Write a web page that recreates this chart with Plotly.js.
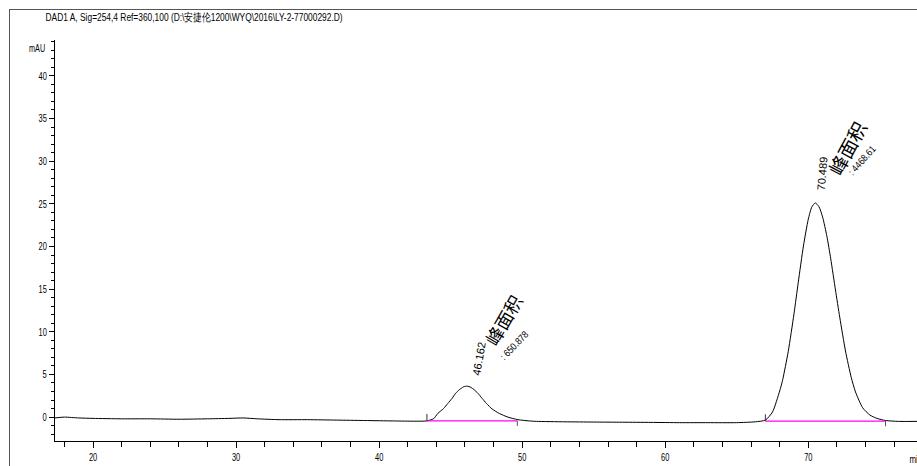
<!DOCTYPE html>
<html>
<head>
<meta charset="utf-8">
<script src="https://cdn.plot.ly/plotly-3.0.1.min.js"></script>
<style>
html,body{margin:0;padding:0;background:#fff;}
#wrap{position:relative;width:917px;height:466px;overflow:hidden;}
#chart{width:917px;height:466px;}
#frame{position:absolute;left:9px;top:9px;width:920px;height:470px;border-left:1px solid #555;border-top:1px solid #555;pointer-events:none;}
</style>
</head>
<body>
<div id="wrap"><div id="chart"></div><div id="frame"></div></div>
<script>
// Chromatogram signal (time in min, absorbance in mAU)
const timeMin = [17.3, 18, 19, 20, 22, 24, 26, 28, 29.5, 30.5, 31.5, 33, 35, 37, 39, 41, 42.5, 43.3,
  43.8, 44.1, 44.5, 44.8, 45.1, 45.35, 45.6, 45.9, 46.16, 46.4, 46.65, 46.9, 47.2, 47.5, 47.9, 48.4, 49.0, 49.7, 50.5,
  51, 53, 55, 57, 59, 61, 63, 65, 66.3, 67.0,
  67.5, 68.0, 68.2, 68.6, 69.0, 69.3, 69.66, 70.0, 70.25, 70.49, 70.75, 71.0, 71.3, 71.57, 71.9, 72.2, 72.6, 73.0, 73.3,
  73.8, 74.3, 74.8, 75.4, 76.3, 77.7];
const signalMAU = [-0.1, 0.0, -0.1, -0.15, -0.2, -0.2, -0.25, -0.2, -0.15, -0.1, -0.2, -0.3, -0.3, -0.35, -0.4, -0.45, -0.48, -0.45,
  -0.2, 0.43, 1.0, 1.6, 2.2, 2.8, 3.2, 3.55, 3.63, 3.5, 3.2, 2.8, 2.2, 1.6, 0.95, 0.43, 0.0, -0.3, -0.45,
  -0.5, -0.55, -0.58, -0.6, -0.62, -0.65, -0.65, -0.65, -0.55, -0.35,
  0.6, 3.06, 4.3, 7.7, 12.1, 15.8, 20.05, 23.2, 24.64, 25.1, 24.65, 23.46, 21.2, 18.55, 14.9, 11.7, 7.75, 4.67, 2.95,
  1.1, 0.25, -0.15, -0.4, -0.5, -0.5];

// Peak table and integration baselines
const peakRT = [46.162, 70.489];
const peakArea = ["650.878", "4468.61"];
const baseStart = [43.34, 67.0];
const baseEnd = [49.66, 75.4];
const baseLevel = [-0.43, -0.47];

const traces = [{
  x: timeMin, y: signalMAU, type: 'scatter', mode: 'lines',
  line: {color: '#000', width: 1, shape: 'spline', smoothing: 0.6},
  hoverinfo: 'skip', showlegend: false
}];
for (let i = 0; i < peakRT.length; i++) {
  traces.push({x: [baseStart[i], baseEnd[i]], y: [baseLevel[i], baseLevel[i]], type: 'scatter', mode: 'lines',
    line: {color: '#ff00ff', width: 1.2}, showlegend: false, hoverinfo: 'skip'});
  traces.push({x: [baseStart[i], baseStart[i]], y: [baseLevel[i], baseLevel[i] + 0.8], type: 'scatter', mode: 'lines',
    line: {color: '#333', width: 1}, showlegend: false, hoverinfo: 'skip'});
  traces.push({x: [baseEnd[i], baseEnd[i]], y: [baseLevel[i], baseLevel[i] - 0.6], type: 'scatter', mode: 'lines',
    line: {color: '#555', width: 1}, showlegend: false, hoverinfo: 'skip'});
}
// invisible trace carrying the minor-tick overlay axes
traces.push({x: [timeMin[0]], y: [signalMAU[0]], xaxis: 'x2', yaxis: 'y2', type: 'scatter', mode: 'markers',
  marker: {opacity: 0}, showlegend: false, hoverinfo: 'skip'});

const XR = [17.34, 77.6], YR = [-2.8, 44.2];
const arial = '"Liberation Sans", Arial, sans-serif';
const cjk = '"Noto Sans CJK SC", sans-serif';
const annos = [
  {x: 47.0, y: 6.9, text: peakRT[0].toFixed(3), textangle: -80, font: {size: 11, color: '#000', family: arial}},
  {x: 48.65, y: 11.4, text: '峰面积', textangle: -60, font: {size: 18, color: '#000', family: cjk}},
  {x: 49.42, y: 8.44, text: ': ' + peakArea[0], textangle: -46, font: {size: 10, color: '#000', family: arial}},
  {x: 70.98, y: 28.6, text: peakRT[1].toFixed(3), textangle: -85, font: {size: 11, color: '#000', family: arial}},
  {x: 72.7, y: 31.6, text: '峰面积', textangle: -62, font: {size: 19, color: '#000', family: cjk}},
  {x: 73.74, y: 30.1, text: ': ' + peakArea[1], textangle: -48, font: {size: 10, color: '#000', family: arial}}
].map(a => Object.assign({xref: 'x', yref: 'y', showarrow: false, xanchor: 'center', yanchor: 'middle'}, a));

const titleText = 'DAD1 A, Sig=254,4 Ref=360,100 (D:\\安捷伦1200\\WYQ\\2016\\LY-2-77000292.D)';
annos.push({xref: 'paper', yref: 'paper', x: -0.0209, y: 0.98, xanchor: 'center', yanchor: 'middle', showarrow: false,
  text: 'mAU', font: {size: 10, color: '#000', family: arial}});
annos.push({xref: 'paper', yref: 'paper', x: 0.9983, y: -0.025, xanchor: 'center', yanchor: 'top', showarrow: false,
  text: 'min', font: {size: 11, color: '#000', family: arial}});
annos.push({xref: 'paper', yref: 'paper', x: 0.1607, y: 1.057, xanchor: 'center', yanchor: 'middle', showarrow: false,
  text: titleText, font: {size: 10.5, color: '#000', family: arial}});

const tickFont = {size: 11, color: '#000', family: arial};
const layout = {
  width: 917, height: 466,
  margin: {l: 55, r: 0, t: 40, b: 25, pad: 0},
  paper_bgcolor: '#fff', plot_bgcolor: '#fff',
  showlegend: false,
  xaxis: {
    range: XR, tick0: 0, dtick: 10, ticks: 'outside', ticklen: 6, tickcolor: '#000',
    showline: true, linecolor: '#000', linewidth: 1, showgrid: false, zeroline: false,
    tickfont: tickFont
  },
  yaxis: {
    range: YR, tick0: 0, dtick: 5, ticks: 'outside', ticklen: 5, tickcolor: '#000',
    showline: true, linecolor: '#000', linewidth: 1, showgrid: false, zeroline: false,
    tickfont: tickFont
  },
  xaxis2: {range: XR, overlaying: 'x', anchor: 'y', side: 'bottom', tick0: 0, dtick: 2, ticks: 'outside', ticklen: 5,
    tickcolor: '#000', showticklabels: false, showline: false, showgrid: false, zeroline: false},
  yaxis2: {range: YR, overlaying: 'y', anchor: 'x', side: 'left', tick0: 0, dtick: 1, ticks: 'outside', ticklen: 3,
    tickcolor: '#000', showticklabels: false, showline: false, showgrid: false, zeroline: false},
  annotations: annos
};

Plotly.newPlot('chart', traces, layout, {displayModeBar: false, staticPlot: true}).then(() => {
  // condense the narrow-font labels (the original uses a condensed face)
  const condense = (el, f) => {
    const w = el.getComputedTextLength();
    if (w > 0) { el.setAttribute('textLength', (w * f).toFixed(1)); el.setAttribute('lengthAdjust', 'spacingAndGlyphs'); }
  };
  document.querySelectorAll('.xtick text, .ytick text').forEach(t => condense(t, 0.68));
  document.querySelectorAll('.annotation-text').forEach(t => {
    const s = t.textContent;
    if (s.startsWith('DAD1')) {
      t.setAttribute('textLength', '297'); t.setAttribute('lengthAdjust', 'spacingAndGlyphs');
    } else if (s === 'mAU' || s === 'min') {
      condense(t, 0.72);
    } else if (s.startsWith(':')) {
      condense(t, 0.85);
    }
  });
});
</script>
</body>
</html>
